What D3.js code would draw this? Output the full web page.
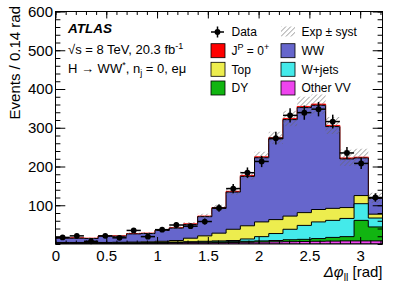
<!DOCTYPE html>
<html>
<head>
<meta charset="utf-8">
<script src="https://cdn.jsdelivr.net/npm/d3@7"></script>
<style>
  body { margin: 0; background: #fff; }
  text { font-family: "Liberation Sans", Arial, Helvetica, sans-serif; }
</style>
</head>
<body>
<div class="chart"></div>
<script>
//Bin edges of the delta phi distribution (rad)
var binEdges = [0, 0.14, 0.28, 0.42, 0.56, 0.70, 0.84, 0.98, 1.12, 1.26, 1.40, 1.54,
                1.68, 1.82, 1.96, 2.10, 2.24, 2.38, 2.52, 2.66, 2.80, 2.94, 3.08, 3.22];

//Observed events per bin
var dataCounts = [17, 21, 7, 21, 16, 35, 19, 37, 49, 46, 58, 93, 143, 184, 213, 273, 332, 339, 348, 316, 235, 208, 120];

//Expected backgrounds and signal per bin (stacked bottom to top)
var otherVV = [1, 1, 1, 1, 1.5, 1.5, 2, 2, 2.5, 3, 3, 3.5, 4, 4.5, 5, 5.5, 6, 6.5, 7, 7.5, 8, 8, 8];
var dy      = [1, 1, 1, 1, 1, 1, 1, 1, 1.5, 1, 2, 2, 2, 2.5, 3, 3.5, 5, 5.5, 7, 9.5, 11, 53, 36];
var wjets   = [0.5, 0.5, 0.5, 0.5, 0.5, 0.5, 0.5, 1, 1, 2, 2, 2.5, 3, 6, 11, 18, 27, 36, 43, 44, 47, 43, 23];
var topBkg  = [1.5, 1.5, 1.5, 1.5, 1.5, 2, 2, 3, 4, 9, 14, 20, 29, 34, 38, 36, 34, 33, 32, 31, 28, 21, 10];
var ww      = [11, 11, 10, 16, 15.5, 21, 21.5, 28, 32, 35.5, 49.5, 64, 96, 127.5, 165.5, 208, 249, 271, 269, 211, 125.5, 97, 40.5];
var signal  = [1, 1, 1, 1, 1, 1, 1, 1, 1, 1.5, 1.5, 2, 2, 2.5, 2.5, 3, 3, 3, 3, 3, 2.5, 2, 1.5];

//Systematic uncertainty on the total expectation
var systErr = [2, 2, 2, 2, 2, 3, 3, 3, 4, 5, 6, 7, 9, 11, 13, 16, 20, 25, 25, 22, 21, 22, 13];

//Tick labels
var xTicks = [0, 0.5, 1, 1.5, 2, 2.5, 3];
var yTicks = [100, 200, 300, 400, 500, 600];

//Canvas dimensions and margins
var width = 399,
    height = 286;

var margin = {
    top: 11.5,
    bottom: 42,
    left: 55.5,
    right: 16.5,
}

var fontFamily = "'Liberation Sans', Arial, Helvetica, sans-serif";

//Sample keys, colors and strokes, stacked from the bottom
var keys = ["otherVV", "dy", "wjets", "top", "ww", "signal"];
var sampleValues = {otherVV: otherVV, dy: dy, wjets: wjets, top: topBkg, ww: ww, signal: signal};
var color = {
    otherVV: "#ee44ee",
    dy: "#11b511",
    wjets: "#44eaea",
    top: "#eded4e",
    ww: "#6666cc",
    signal: "#ff0000"
};

var svg = d3.select(".chart")
            .append("svg")
            .attr("width", width)
            .attr("height", height);

var x = d3.scaleLinear().domain([0, 3.22]).range([margin.left, width - margin.right]);
var y = d3.scaleLinear().domain([0, 600]).range([height - margin.bottom, margin.top]);

//Rows for the stack layout, one per bin
var rows = dataCounts.map(function(d, i) {
    var row = {x0: binEdges[i], x1: binEdges[i + 1]};
    keys.forEach(function(k) { row[k] = sampleValues[k][i]; });
    return row;
});

var series = d3.stack().keys(keys)(rows);
var total = series[series.length - 1].map(function(d) { return d[1]; });

//Turn per-bin values into step points (last value repeated on the upper edge)
function stepPoints(lo, hi) {
    var pts = hi.map(function(v, i) { return {e: binEdges[i], lo: lo[i], hi: v}; });
    pts.push({e: binEdges[hi.length], lo: lo[hi.length - 1], hi: hi[hi.length - 1]});
    return pts;
}

var stepArea = d3.area()
                 .x(function(d) { return x(d.e); })
                 .y0(function(d) { return y(d.lo); })
                 .y1(function(d) { return y(d.hi); })
                 .curve(d3.curveStepAfter);

//Hatch pattern for the systematic band
var defs = svg.append("defs");
defs.append("pattern")
    .attr("id", "hatch")
    .attr("patternUnits", "userSpaceOnUse")
    .attr("width", 3.5)
    .attr("height", 3.5)
    .attr("patternTransform", "rotate(45)")
    .append("line")
    .attr("x1", 0).attr("y1", 0)
    .attr("x2", 0).attr("y2", 3.5)
    .attr("stroke", "#666")
    .attr("stroke-width", 1);

defs.append("clipPath")
    .attr("id", "frameClip")
    .append("rect")
    .attr("x", margin.left)
    .attr("y", margin.top)
    .attr("width", width - margin.left - margin.right)
    .attr("height", height - margin.top - margin.bottom);

var plot = svg.append("g").attr("clip-path", "url(#frameClip)");

//Cumulative histograms drawn from the largest down, like a ROOT stack
var zeros = total.map(function() { return 0; });
series.slice().reverse().forEach(function(s) {
    var cum = s.map(function(d) { return d[1]; });
    plot.append("path")
        .attr("d", stepArea(stepPoints(zeros, cum)))
        .attr("fill", color[s.key])
        .attr("stroke", s.key == "signal" ? "#ff0000" : "#000")
        .attr("stroke-width", 1);
});

//Systematic band around the total expectation
plot.append("path")
    .attr("d", stepArea(stepPoints(total.map(function(t, i) { return t - systErr[i]; }),
                                   total.map(function(t, i) { return t + systErr[i]; }))))
    .attr("fill", "url(#hatch)")
    .attr("stroke", "none");

//Axes with inward ticks on all four sides
var plotW = width - margin.left - margin.right,
    plotH = height - margin.top - margin.bottom;
var yLong = 0.03 * plotW, xLong = 0.03 * plotH;
var yMinor = d3.range(0, 601, 20), xMinor = d3.range(0, 3.22, 0.1);

function styleAxis(g) {
    g.select(".domain").remove();
    g.selectAll("line").attr("stroke", "#000");
    g.attr("font-family", fontFamily).attr("font-size", 15);
}

svg.append("g").attr("transform", "translate(" + margin.left + ",0)")
   .call(d3.axisLeft(y).tickValues(yTicks).tickSize(-yLong).tickPadding(2.5).tickFormat(d3.format("d")))
   .call(styleAxis);
svg.append("g").attr("transform", "translate(" + margin.left + ",0)")
   .call(d3.axisLeft(y).tickValues(yMinor).tickSize(-yLong / 2).tickFormat(""))
   .call(styleAxis);
svg.append("g").attr("transform", "translate(" + (width - margin.right) + ",0)")
   .call(d3.axisRight(y).tickValues(yTicks).tickSize(-yLong).tickFormat(""))
   .call(styleAxis);
svg.append("g").attr("transform", "translate(" + (width - margin.right) + ",0)")
   .call(d3.axisRight(y).tickValues(yMinor).tickSize(-yLong / 2).tickFormat(""))
   .call(styleAxis);

svg.append("g").attr("transform", "translate(0," + (height - margin.bottom) + ")")
   .call(d3.axisBottom(x).tickValues(xTicks).tickSize(-xLong).tickPadding(6).tickFormat(function(d) { return String(d); }))
   .call(styleAxis);
svg.append("g").attr("transform", "translate(0," + (height - margin.bottom) + ")")
   .call(d3.axisBottom(x).tickValues(xMinor).tickSize(-xLong / 2).tickFormat(""))
   .call(styleAxis);
svg.append("g").attr("transform", "translate(0," + margin.top + ")")
   .call(d3.axisTop(x).tickValues(xTicks).tickSize(-xLong).tickFormat(""))
   .call(styleAxis);
svg.append("g").attr("transform", "translate(0," + margin.top + ")")
   .call(d3.axisTop(x).tickValues(xMinor).tickSize(-xLong / 2).tickFormat(""))
   .call(styleAxis);

//Frame
svg.append("rect")
   .attr("x", margin.left)
   .attr("y", margin.top)
   .attr("width", plotW)
   .attr("height", plotH)
   .attr("fill", "none")
   .attr("stroke", "#000")
   .attr("stroke-width", 1);

//Data points with statistical error bars
var points = svg.append("g").selectAll("g")
                .data(dataCounts)
                .enter()
                .append("g");

points.append("line")
      .attr("x1", function(d, i) { return x(binEdges[i]); })
      .attr("x2", function(d, i) { return x(binEdges[i + 1]); })
      .attr("y1", function(d) { return y(d); })
      .attr("y2", function(d) { return y(d); })
      .attr("stroke", "#000")
      .attr("stroke-width", 1.5);

points.append("line")
      .attr("x1", function(d, i) { return x((binEdges[i] + binEdges[i + 1]) / 2); })
      .attr("x2", function(d, i) { return x((binEdges[i] + binEdges[i + 1]) / 2); })
      .attr("y1", function(d) { return y(d - Math.sqrt(d)); })
      .attr("y2", function(d) { return y(d + Math.sqrt(d)); })
      .attr("stroke", "#000")
      .attr("stroke-width", 1.5);

points.append("circle")
      .attr("cx", function(d, i) { return x((binEdges[i] + binEdges[i + 1]) / 2); })
      .attr("cy", function(d) { return y(d); })
      .attr("r", 2.9)
      .attr("fill", "#000");

//Axis titles
var xTitle = svg.append("text")
                .attr("x", width - margin.right)
                .attr("y", 277)
                .attr("text-anchor", "end")
                .attr("font-size", 15);
xTitle.append("tspan").attr("font-style", "italic").text("\u0394\u03c6");
xTitle.append("tspan").attr("font-size", 10.5).attr("dy", 4).text("ll");
xTitle.append("tspan").attr("dy", -4).text(" [rad]");

svg.append("text")
   .attr("transform", "translate(20,6) rotate(-90)")
   .attr("text-anchor", "end")
   .attr("font-size", 15)
   .text("Events / 0.14 rad");

//ATLAS label
svg.append("text")
   .attr("x", 68).attr("y", 33)
   .attr("font-size", 13.5)
   .attr("font-weight", "bold")
   .attr("font-style", "italic")
   .text("ATLAS");

var lumi = svg.append("text").attr("x", 68).attr("y", 53.5).attr("font-size", 13);
lumi.append("tspan").text("\u221as = 8 TeV, 20.3 fb");
lumi.append("tspan").attr("font-size", 9).attr("dy", -5).text("-1");

var chan = svg.append("text").attr("x", 68).attr("y", 72.5).attr("font-size", 13);
chan.append("tspan").text("H \u2192 WW");
chan.append("tspan").attr("font-size", 9).attr("dy", -5).text("*");
chan.append("tspan").attr("dy", 5).text(", n");
chan.append("tspan").attr("font-size", 9).attr("dy", 3.5).text("j");
chan.append("tspan").attr("dy", -3.5).text(" = 0, e\u03bc");

//Legend
var legendRows = [32, 50.7, 69.3, 88];
var legendCol1 = [
    {kind: "data", label: [["Data", 0]]},
    {kind: "signal", label: [["J", 0], ["P", -5, 9], [" = 0", 5], ["+", -5, 9]]},
    {kind: "top", label: [["Top", 0]]},
    {kind: "dy", label: [["DY", 0]]}
];
var legendCol2 = [
    {kind: "syst", label: [["Exp ", 0], ["\u00b1", 0], [" syst", 0]]},
    {kind: "ww", label: [["WW", 0]]},
    {kind: "wjets", label: [["W+jets", 0]]},
    {kind: "otherVV", label: [["Other VV", 0]]}
];

function drawLegend(entries, boxX, textX) {
    entries.forEach(function(e, i) {
        var cy = legendRows[i];
        if (e.kind == "data") {
            svg.append("line").attr("x1", boxX).attr("x2", boxX + 13)
               .attr("y1", cy).attr("y2", cy).attr("stroke", "#000").attr("stroke-width", 1.5);
            svg.append("line").attr("x1", boxX + 6.5).attr("x2", boxX + 6.5)
               .attr("y1", cy - 5.5).attr("y2", cy + 5.5).attr("stroke", "#000").attr("stroke-width", 1.5);
            svg.append("circle").attr("cx", boxX + 6.5).attr("cy", cy).attr("r", 2.9).attr("fill", "#000");
        } else if (e.kind == "syst") {
            svg.append("rect").attr("x", boxX).attr("y", cy - 5.5).attr("width", 14).attr("height", 10)
               .attr("fill", "url(#hatch)");
        } else {
            svg.append("rect").attr("x", boxX).attr("y", cy - 7).attr("width", 14).attr("height", 14)
               .attr("fill", color[e.kind]).attr("stroke", "#000").attr("stroke-width", 0.8);
        }
        var t = svg.append("text").attr("x", textX).attr("y", cy + 4.3).attr("font-size", 12);
        e.label.forEach(function(p) {
            var span = t.append("tspan").attr("dy", p[1]).text(p[0]);
            if (p[2]) span.attr("font-size", p[2]);
        });
    });
}

drawLegend(legendCol1, 211, 231.5);
drawLegend(legendCol2, 281, 301.5);
</script>
</body>
</html>
